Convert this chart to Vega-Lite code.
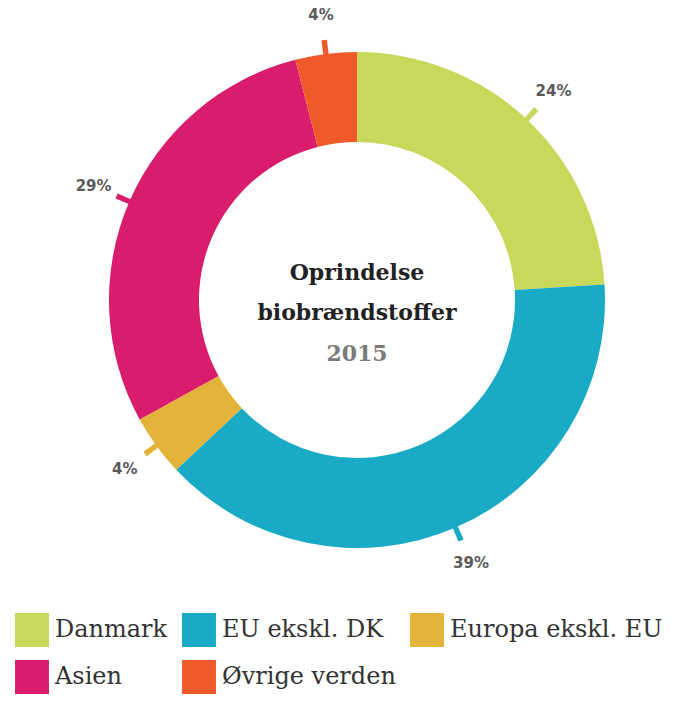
{
  "$schema": "https://vega.github.io/schema/vega-lite/v6.json",
  "autosize": "none",
  "padding": {"left": 0, "top": 0, "right": 0, "bottom": 101},
  "width": 714,
  "height": 600,
  "background": "white",
  "config": {"view": {"stroke": null}},
  "layer": [
    {
      "data": {"values": [
        {"name": "Danmark", "v": 24},
        {"name": "EU ekskl. DK", "v": 39},
        {"name": "Europa ekskl. EU", "v": 4},
        {"name": "Asien", "v": 29},
        {"name": "Øvrige verden", "v": 4}
      ]},
      "transform": [
        {"window": [{"op": "row_number", "as": "i"}]},
        {"window": [{"op": "sum", "field": "v", "as": "cum"}], "sort": [{"field": "i"}], "frame": [null, 0]},
        {"calculate": "datum.cum - datum.v / 2", "as": "mid"},
        {"calculate": "datum.mid - 0.17", "as": "lo"},
        {"calculate": "datum.mid + 0.17", "as": "hi"},
        {"calculate": "datum.v + '%'", "as": "label"}
      ],
      "layer": [
        {
          "mark": {"type": "arc", "outerRadius": 248, "innerRadius": 158},
          "encoding": {
            "theta": {"field": "v", "type": "quantitative", "stack": true, "scale": {"domain": [0, 100]}},
            "order": {"field": "i", "type": "quantitative"},
            "color": {
              "field": "name",
              "type": "nominal",
              "sort": null,
              "scale": {
                "domain": ["Danmark", "EU ekskl. DK", "Europa ekskl. EU", "Asien", "Øvrige verden"],
                "range": ["#c8d85a", "#19abc6", "#e3b33a", "#d91c6c", "#ef5a2b"]
              },
              "legend": {
                "title": null,
                "orient": "none",
                "legendX": 15,
                "legendY": 613,
                "direction": "horizontal",
                "columns": 3,
                "columnPadding": 14,
                "rowPadding": 13,
                "symbolType": "square",
                "symbolSize": 1150,
                "symbolStrokeWidth": 0,
                "symbolOpacity": 1,
                "labelFont": "DejaVu Serif",
                "labelFontSize": 24,
                "labelColor": "#333333",
                "labelLimit": 400,
                "labelOffset": 6
              }
            }
          }
        },
        {
          "mark": {"type": "arc", "outerRadius": 262, "innerRadius": 247},
          "encoding": {
            "theta": {"field": "lo", "type": "quantitative", "stack": null},
            "theta2": {"field": "hi"},
            "color": {"field": "name", "type": "nominal", "sort": null}
          }
        },
        {
          "mark": {"type": "text", "radius": 287, "font": "DejaVu Sans", "fontSize": 15, "fontWeight": "bold", "color": "#5a5a5a"},
          "encoding": {
            "theta": {"field": "mid", "type": "quantitative", "stack": null},
            "text": {"field": "label", "type": "nominal"}
          }
        }
      ]
    },
    {
      "data": {"values": [{"t": 1}]},
      "layer": [
        {
          "mark": {"type": "text", "text": "Oprindelse", "font": "DejaVu Serif", "fontSize": 22, "fontWeight": "bold", "color": "#222222", "baseline": "middle", "dy": -27},
          "encoding": {}
        },
        {
          "mark": {"type": "text", "text": "biobrændstoffer", "font": "DejaVu Serif", "fontSize": 22, "fontWeight": "bold", "color": "#222222", "baseline": "middle", "dy": 13},
          "encoding": {}
        },
        {
          "mark": {"type": "text", "text": "2015", "font": "DejaVu Serif", "fontSize": 22, "fontWeight": "bold", "color": "#7a7a7a", "baseline": "middle", "dy": 54},
          "encoding": {}
        }
      ]
    }
  ]
}
